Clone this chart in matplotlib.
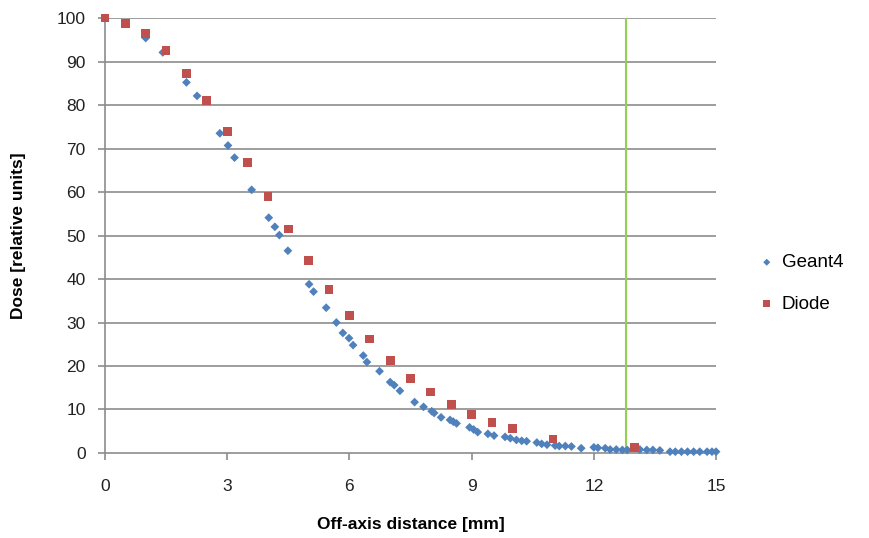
import matplotlib
matplotlib.use("Agg")
import matplotlib.pyplot as plt

# Geant4 simulated off-axis profile
geant4_x = [0, 0.5, 1.0, 1.42, 2.0, 2.26, 2.82, 3.02, 3.18, 3.6,
            4.02, 4.17, 4.28, 4.49, 5.01, 5.12, 5.43, 5.68, 5.84, 5.99,
            6.09, 6.34, 6.43, 6.74, 7.0, 7.1, 7.24, 7.6, 7.82, 8.02,
            8.08, 8.25, 8.47, 8.55, 8.63, 8.95, 9.05, 9.15, 9.4, 9.55,
            9.82, 9.95, 10.1, 10.23, 10.35, 10.6, 10.72, 10.85, 11.05, 11.15,
            11.3, 11.45, 11.69, 12.0, 12.1, 12.28, 12.4, 12.55, 12.7, 12.82,
            13.13, 13.3, 13.45, 13.62, 13.87, 14.0, 14.15, 14.3, 14.45, 14.6,
            14.78, 14.9, 15.0]
geant4_y = [100, 98.8, 95.4, 92.1, 85.2, 82.1, 73.5, 70.7, 67.9, 60.5,
            54.1, 52.0, 50.1, 46.5, 38.8, 37.1, 33.4, 30.0, 27.6, 26.4,
            24.8, 22.4, 20.9, 18.8, 16.3, 15.6, 14.3, 11.7, 10.6, 9.6,
            9.2, 8.2, 7.6, 7.2, 6.8, 5.9, 5.4, 4.8, 4.4, 4.0,
            3.7, 3.4, 3.0, 2.8, 2.7, 2.4, 2.1, 1.9, 1.7, 1.6,
            1.6, 1.5, 1.1, 1.3, 1.2, 1.1, 0.8, 0.8, 0.7, 0.7,
            0.8, 0.7, 0.7, 0.6, 0.3, 0.3, 0.3, 0.3, 0.3, 0.3,
            0.3, 0.3, 0.3]

# diode measurement
diode_x = [0, 0.5, 1, 1.5, 2, 2.5, 3, 3.5, 4, 4.5, 5, 5.5, 6, 6.5,
           7, 7.5, 8, 8.5, 9, 9.5, 10, 11, 13]
diode_y = [100, 98.8, 96.5, 92.5, 87.3, 81.0, 74.0, 66.8, 59.0, 51.5,
           44.3, 37.6, 31.7, 26.2, 21.3, 17.2, 14.0, 11.1, 8.8, 7.1,
           5.6, 3.2, 1.2]

marker_line_x = 12.8
x_ticks = [0, 3, 6, 9, 12, 15]
y_ticks = list(range(0, 101, 10))

plt.rcParams['font.family'] = ['Liberation Sans', 'DejaVu Sans']

fig = plt.figure(figsize=(8.69, 5.38), dpi=100)
ax = fig.add_axes([0.1208, 0.158, 0.7032, 0.8085])

grid_col = '#8c8c8c'
for y in y_ticks[1:]:
    ax.axhline(y, color=grid_col, lw=1.2, zorder=1)

ax.axvline(marker_line_x, color='#92d050', lw=1.5, zorder=2)

ax.scatter(geant4_x, geant4_y, marker='D', s=20, color='#4f81bd',
           edgecolors='none', label='Geant4', zorder=3, clip_on=False)
ax.scatter(diode_x, diode_y, marker='s', s=40, color='#c0504d',
           edgecolors='none', label='Diode', zorder=4, clip_on=False)

ax.set_xlim(0, 15)
ax.set_ylim(0, 100)
ax.set_xticks(x_ticks)
ax.set_yticks(y_ticks)

for side in ['top', 'right']:
    ax.spines[side].set_visible(False)
ax.spines['left'].set_color(grid_col)
ax.spines['bottom'].set_color(grid_col)
ax.spines['left'].set_linewidth(1.2)
ax.spines['bottom'].set_linewidth(1.2)
ax.tick_params(axis='both', color=grid_col, width=1.2, length=5,
               labelsize=12.5, labelcolor='#222222')
ax.tick_params(axis='x', pad=14)
ax.tick_params(axis='y', pad=9)

ax.set_xlabel('Off-axis distance [mm]', fontsize=12.5, fontweight='bold', labelpad=16)
ax.set_ylabel('Dose [relative units]', fontsize=12.5, fontweight='bold', labelpad=22)

ax.legend(loc='center left', bbox_to_anchor=(1.04, 0.39), frameon=False,
          fontsize=13.5, handletextpad=0.3, labelspacing=1.3,
          markerscale=0.8, handlelength=1.0)

fig.savefig('out.png', dpi=100)
